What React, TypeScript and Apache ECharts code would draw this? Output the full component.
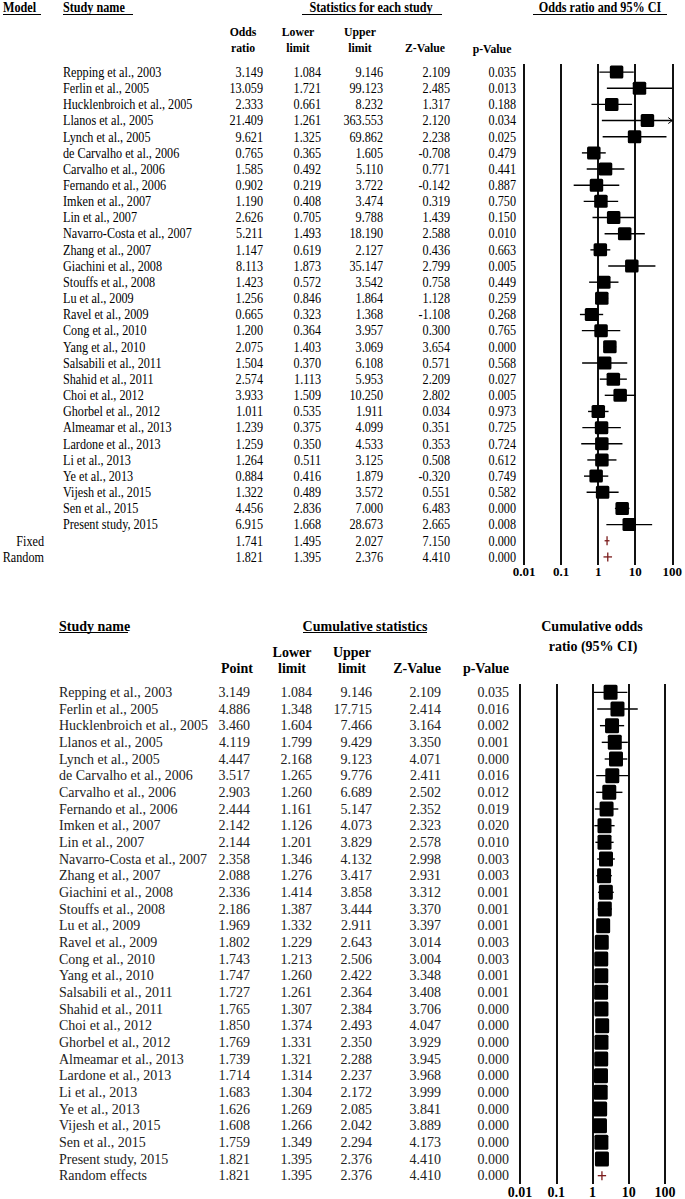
import React, { useEffect, useRef } from "react";
import * as echarts from "echarts";

// ---------- DATA: top panel (statistics for each study) ----------
const TOP_NAMES = [
  "Repping et al., 2003", "Ferlin et al., 2005", "Hucklenbroich et al., 2005", "Llanos et al., 2005",
  "Lynch et al., 2005", "de Carvalho et al., 2006", "Carvalho et al., 2006", "Fernando et al., 2006",
  "Imken et al., 2007", "Lin et al., 2007", "Navarro-Costa et al., 2007", "Zhang et al., 2007",
  "Giachini et al., 2008", "Stouffs et al., 2008", "Lu et al., 2009", "Ravel et al., 2009",
  "Cong et al., 2010", "Yang et al., 2010", "Salsabili et al., 2011", "Shahid et al., 2011",
  "Choi et al., 2012", "Ghorbel et al., 2012", "Almeamar et al., 2013", "Lardone et al., 2013",
  "Li et al., 2013", "Ye et al., 2013", "Vijesh et al., 2015", "Sen et al., 2015", "Present study, 2015",
];
const TOP_MODELS = ["Fixed", "Random"];
const TOP_OR = [3.149, 13.059, 2.333, 21.409, 9.621, 0.765, 1.585, 0.902, 1.19, 2.626, 5.211, 1.147, 8.113, 1.423, 1.256, 0.665, 1.2, 2.075, 1.504, 2.574, 3.933, 1.011, 1.239, 1.259, 1.264, 0.884, 1.322, 4.456, 6.915, 1.741, 1.821];
const TOP_LO = [1.084, 1.721, 0.661, 1.261, 1.325, 0.365, 0.492, 0.219, 0.408, 0.705, 1.493, 0.619, 1.873, 0.572, 0.846, 0.323, 0.364, 1.403, 0.37, 1.113, 1.509, 0.535, 0.375, 0.35, 0.511, 0.416, 0.489, 2.836, 1.668, 1.495, 1.395];
const TOP_HI = [9.146, 99.123, 8.232, 363.553, 69.862, 1.605, 5.11, 3.722, 3.474, 9.788, 18.19, 2.127, 35.147, 3.542, 1.864, 1.368, 3.957, 3.069, 6.108, 5.953, 10.25, 1.911, 4.099, 4.533, 3.125, 1.879, 3.572, 7.0, 28.673, 2.027, 2.376];
const TOP_Z = [2.109, 2.485, 1.317, 2.12, 2.238, -0.708, 0.771, -0.142, 0.319, 1.439, 2.588, 0.436, 2.799, 0.758, 1.128, -1.108, 0.3, 3.654, 0.571, 2.209, 2.802, 0.034, 0.351, 0.353, 0.508, -0.32, 0.551, 6.483, 2.665, 7.15, 4.41];
const TOP_P = [0.035, 0.013, 0.188, 0.034, 0.025, 0.479, 0.441, 0.887, 0.75, 0.15, 0.01, 0.663, 0.005, 0.449, 0.259, 0.268, 0.765, 0.0, 0.568, 0.027, 0.005, 0.973, 0.725, 0.724, 0.612, 0.749, 0.582, 0.0, 0.008, 0.0, 0.0];

// ---------- DATA: bottom panel (cumulative statistics) ----------
const BOT_NAMES = [
  "Repping et al., 2003", "Ferlin et al., 2005", "Hucklenbroich et al., 2005", "Llanos et al., 2005",
  "Lynch et al., 2005", "de Carvalho et al., 2006", "Carvalho et al., 2006", "Fernando et al., 2006",
  "Imken et al., 2007", "Lin et al., 2007", "Navarro-Costa et al., 2007", "Zhang et al., 2007",
  "Giachini et al., 2008", "Stouffs et al., 2008", "Lu et al., 2009", "Ravel et al., 2009",
  "Cong et al., 2010", "Yang et al., 2010", "Salsabili et al., 2011", "Shahid et al., 2011",
  "Choi et al., 2012", "Ghorbel et al., 2012", "Almeamar et al., 2013", "Lardone et al., 2013",
  "Li et al., 2013", "Ye et al., 2013", "Vijesh et al., 2015", "Sen et al., 2015", "Present study, 2015",
  "Random effects",
];
const BOT_PT = [3.149, 4.886, 3.46, 4.119, 4.447, 3.517, 2.903, 2.444, 2.142, 2.144, 2.358, 2.088, 2.336, 2.186, 1.969, 1.802, 1.743, 1.747, 1.727, 1.765, 1.85, 1.769, 1.739, 1.714, 1.683, 1.626, 1.608, 1.759, 1.821, 1.821];
const BOT_LO = [1.084, 1.348, 1.604, 1.799, 2.168, 1.265, 1.26, 1.161, 1.126, 1.201, 1.346, 1.276, 1.414, 1.387, 1.332, 1.229, 1.213, 1.26, 1.261, 1.307, 1.374, 1.331, 1.321, 1.314, 1.304, 1.269, 1.266, 1.349, 1.395, 1.395];
const BOT_HI = [9.146, 17.715, 7.466, 9.429, 9.123, 9.776, 6.689, 5.147, 4.073, 3.829, 4.132, 3.417, 3.858, 3.444, 2.911, 2.643, 2.506, 2.422, 2.364, 2.384, 2.493, 2.35, 2.288, 2.237, 2.172, 2.085, 2.042, 2.294, 2.376, 2.376];
const BOT_Z = [2.109, 2.414, 3.164, 3.35, 4.071, 2.411, 2.502, 2.352, 2.323, 2.578, 2.998, 2.931, 3.312, 3.37, 3.397, 3.014, 3.004, 3.348, 3.408, 3.706, 4.047, 3.929, 3.945, 3.968, 3.999, 3.841, 3.889, 4.173, 4.41, 4.41];
const BOT_P = [0.035, 0.016, 0.002, 0.001, 0.0, 0.016, 0.012, 0.019, 0.02, 0.01, 0.003, 0.003, 0.001, 0.001, 0.001, 0.003, 0.003, 0.001, 0.001, 0.0, 0.0, 0.0, 0.0, 0.0, 0.0, 0.0, 0.0, 0.0, 0.0, 0.0];

const AXIS_MIN = 0.01;
const AXIS_MAX = 100;

const FONT = "Liberation Serif, Times New Roman, serif";

function gText(text: string, x: number, y: number, size: number, bold: boolean, align: string, sx = 1, fill = "#000") {
  return {
    type: "text",
    x,
    y,
    scaleX: sx,
    style: {
      text,
      fontSize: size,
      fontFamily: FONT,
      fontWeight: bold ? "bold" : "normal",
      fill,
      align,
      textAlign: align,
      verticalAlign: "middle",
      textVerticalAlign: "middle",
    },
  };
}
function gLine(x1: number, y1: number, x2: number, y2: number, w = 1) {
  return { type: "line", shape: { x1, y1, x2, y2 }, style: { stroke: "#000", lineWidth: w } };
}

function forestRender(summaryFrom: number, boxW: number, boxH: number) {
  return (params: any, api: any) => {
    const pt = api.value(0);
    const lo = Math.max(api.value(1), AXIS_MIN);
    const hiRaw = api.value(2);
    const hi = Math.min(hiRaw, AXIS_MAX);
    const row = api.value(3);
    const c = api.coord([pt, row]);
    const l = api.coord([lo, row]);
    const h = api.coord([hi, row]);
    const children: any[] = [];
    if (params.dataIndex >= summaryFrom) {
      const red = "#7b1c1c";
      children.push({ type: "line", shape: { x1: l[0], y1: c[1], x2: h[0], y2: c[1] }, style: { stroke: red, lineWidth: 1.3 } });
      children.push({ type: "line", shape: { x1: c[0], y1: c[1] - 4.5, x2: c[0], y2: c[1] + 4.5 }, style: { stroke: red, lineWidth: 1.3 } });
      return { type: "group", children };
    }
    children.push({ type: "line", shape: { x1: l[0], y1: c[1], x2: h[0], y2: c[1] }, style: { stroke: "#000", lineWidth: 1.4 } });
    if (hiRaw > AXIS_MAX) {
      children.push({ type: "polyline", shape: { points: [[h[0] - 4, c[1] - 3], [h[0], c[1]], [h[0] - 4, c[1] + 3]] }, style: { stroke: "#000", fill: "none", lineWidth: 1 } });
    }
    children.push({ type: "rect", shape: { x: c[0] - boxW / 2, y: c[1] - boxH / 2, width: boxW, height: boxH, r: 1.5 }, style: { fill: "#000" } });
    return { type: "group", children };
  };
}

export default function App() {
  const ref = useRef<HTMLDivElement>(null);
  useEffect(() => {
    if (!ref.current) return;
    const chart = echarts.init(ref.current, undefined, { renderer: "svg" });

    const TOP_ROWS = TOP_OR.length; // 31
    const BOT_ROWS = BOT_PT.length; // 30
    const f3 = (v: number) => v.toFixed(3);

    const topTableRender = (params: any, api: any) => {
      const i = params.dataIndex;
      const y = api.coord([0, i])[1];
      const size = 14;
      const sx = 0.87;
      const fill = "#000";
      const kids: any[] = [];
      if (i < TOP_NAMES.length) kids.push(gText(TOP_NAMES[i], 63, y, size, false, "left", sx, fill));
      else kids.push(gText(TOP_MODELS[i - TOP_NAMES.length], 44, y, size, false, "right", sx, fill));
      const cols = [263, 321, 383, 450, 516];
      const vals = [TOP_OR[i], TOP_LO[i], TOP_HI[i], TOP_Z[i], TOP_P[i]];
      vals.forEach((v, k) => kids.push(gText(f3(v), cols[k], y, size, false, "right", sx, fill)));
      return { type: "group", children: kids };
    };
    const botTableRender = (params: any, api: any) => {
      const i = params.dataIndex;
      const y = api.coord([0, i])[1];
      const size = 14;
      const fill = "#222";
      const kids: any[] = [gText(BOT_NAMES[i], 59, y, size, false, "left", 1, fill)];
      const cols = [250, 312, 372, 441, 509];
      const vals = [BOT_PT[i], BOT_LO[i], BOT_HI[i], BOT_Z[i], BOT_P[i]];
      vals.forEach((v, k) => kids.push(gText(f3(v), cols[k], y, size, false, "right", 1, fill)));
      return { type: "group", children: kids };
    };

    const fmt = (v: number) => String(parseFloat(Number(v).toPrecision(6)));

    const logAxis = (gridIndex: number, fontSize: number, margin: number) => ({
      type: "log",
      logBase: 10,
      gridIndex,
      min: AXIS_MIN,
      max: AXIS_MAX,
      axisLine: { show: false },
      axisTick: { show: false },
      splitLine: { show: true, lineStyle: { color: "#111", width: 2 } },
      axisLabel: { show: true, fontFamily: FONT, fontWeight: "bold", fontSize, color: "#000", margin, formatter: fmt },
    });
    const hiddenValueX = (gridIndex: number) => ({
      type: "value", gridIndex, min: 0, max: 685, show: false,
    });
    const rowAxis = (gridIndex: number, n: number) => ({
      type: "value", gridIndex, inverse: true, min: -0.5, max: n - 0.5, show: false,
    });

    const topGridTop = 64;
    const topGridBottom = 1199 - 565;
    const botGridTop = 684;
    const botGridBottom = 1199 - 1184;

    const graphics: any[] = [
      gText("Model", 3, 7, 14, true, "left", 0.87),
      gLine(3, 14.5, 41, 14.5),
      gText("Study name", 63, 7, 14, true, "left", 0.87),
      gLine(63, 14.5, 133, 14.5),
      gText("Statistics for each study", 371, 7, 14, true, "center", 0.87),
      gLine(302, 14.5, 442, 14.5),
      gText("Odds ratio and 95% CI", 600, 7, 14, true, "center", 0.87),
      gLine(533, 14.5, 667, 14.5),
      gText("Odds", 243, 32, 13.5, true, "center", 0.87),
      gText("ratio", 243, 48, 13.5, true, "center", 0.87),
      gText("Lower", 298, 32, 13.5, true, "center", 0.87),
      gText("limit", 298, 48, 13.5, true, "center", 0.87),
      gText("Upper", 360, 32, 13.5, true, "center", 0.87),
      gText("limit", 360, 48, 13.5, true, "center", 0.87),
      gText("Z-Value", 425, 48, 13.5, true, "center", 0.87),
      gText("p-Value", 492, 49, 13.5, true, "center", 0.87),
      gText("Study name", 59, 626, 14, true, "left"),
      gLine(59, 632.5, 128, 632.5),
      gText("Cumulative statistics", 365, 626, 14, true, "center"),
      gLine(303, 632.5, 427, 632.5),
      gText("Cumulative odds", 592, 626, 14, true, "center"),
      gText("ratio (95% CI)", 593, 646, 14, true, "center"),
      gText("Point", 237, 668, 14, true, "center"),
      gText("Lower", 292, 652, 14, true, "center"),
      gText("limit", 292, 668, 14, true, "center"),
      gText("Upper", 352, 652, 14, true, "center"),
      gText("limit", 352, 668, 14, true, "center"),
      gText("Z-Value", 417, 668, 14, true, "center"),
      gText("p-Value", 486, 668, 14, true, "center"),
    ];

    chart.setOption({
      animation: false,
      backgroundColor: "#fff",
      grid: [
        { left: 524, right: 685 - 673, top: topGridTop, bottom: topGridBottom },
        { left: 0, right: 0, top: topGridTop, bottom: topGridBottom },
        { left: 520, right: 685 - 665, top: botGridTop, bottom: botGridBottom },
        { left: 0, right: 0, top: botGridTop, bottom: botGridBottom },
      ],
      xAxis: [logAxis(0, 13, 0), hiddenValueX(1), logAxis(2, 14, 1), hiddenValueX(3)],
      yAxis: [rowAxis(0, TOP_ROWS), rowAxis(1, TOP_ROWS), rowAxis(2, BOT_ROWS), rowAxis(3, BOT_ROWS)],
      graphic: graphics,
      series: [
        {
          type: "custom", xAxisIndex: 0, yAxisIndex: 0, clip: false,
          renderItem: forestRender(TOP_NAMES.length, 13.5, 13),
          encode: { x: [0, 1, 2], y: 3 },
          data: TOP_OR.map((v, i) => [v, TOP_LO[i], TOP_HI[i], i]),
        },
        {
          type: "custom", xAxisIndex: 1, yAxisIndex: 1, clip: false,
          renderItem: topTableRender,
          encode: { x: 0, y: 1 },
          data: TOP_OR.map((_, i) => [0, i]),
        },
        {
          type: "custom", xAxisIndex: 2, yAxisIndex: 2, clip: false,
          renderItem: forestRender(BOT_NAMES.length - 1, 14, 15),
          encode: { x: [0, 1, 2], y: 3 },
          data: BOT_PT.map((v, i) => [v, BOT_LO[i], BOT_HI[i], i]),
        },
        {
          type: "custom", xAxisIndex: 3, yAxisIndex: 3, clip: false,
          renderItem: botTableRender,
          encode: { x: 0, y: 1 },
          data: BOT_PT.map((_, i) => [0, i]),
        },
      ],
    });
    return () => chart.dispose();
  }, []);
  return <div ref={ref} style={{ position: "fixed", left: 0, top: 0, width: 685, height: 1199 }} />;
}
